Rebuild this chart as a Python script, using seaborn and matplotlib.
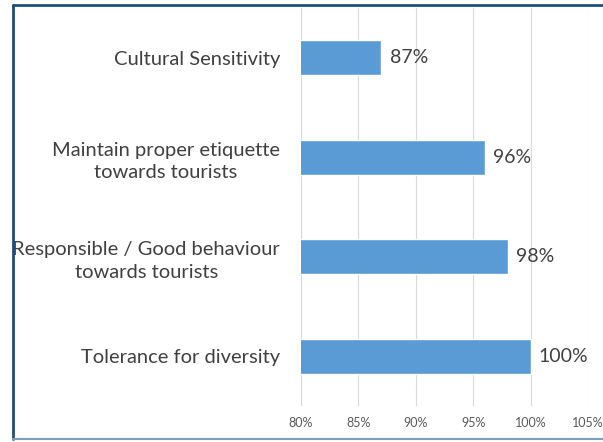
import matplotlib
matplotlib.use("Agg")
import matplotlib.pyplot as plt
from matplotlib.lines import Line2D
from matplotlib.ticker import FuncFormatter, MultipleLocator
import pandas as pd
import seaborn as sns

# === Data ===
categories = [
    "Cultural Sensitivity",
    "Maintain proper etiquette\ntowards tourists",
    "Responsible / Good behaviour\ntowards tourists",
    "Tolerance for diversity",
]
values = [87, 96, 98, 100]
x_ticks = [80, 85, 90, 95, 100, 105]

BAR_COLOR = "#5B9BD5"
TEXT_COLOR = "#404040"

sns.set_theme(style="white")
plt.rcParams["font.family"] = ["Lato", "DejaVu Sans"]

df = pd.DataFrame({"category": categories, "value": values})

fig = plt.figure(figsize=(6.03, 4.42), dpi=100)
ax = fig.add_axes([0.499, 0.0814, 0.476, 0.9006])

sns.barplot(data=df, x="value", y="category", color=BAR_COLOR, width=0.35,
            saturation=1, ax=ax, orient="h")

ax.set_xlim(x_ticks[0], x_ticks[-1])
ax.xaxis.set_major_locator(MultipleLocator(5))
ax.xaxis.set_major_formatter(FuncFormatter(lambda v, _: f"{v:.0f}%"))
ax.grid(axis="x", color="#D9D9D9", linewidth=0.8)
ax.set_axisbelow(True)
for side in ["top", "right", "bottom", "left"]:
    ax.spines[side].set_visible(False)

ax.set_xlabel("")
ax.set_ylabel("")
ax.tick_params(axis="x", length=5, color="#D9D9D9", labelsize=9, labelcolor="#595959", pad=3)
ax.tick_params(axis="y", length=0, labelsize=14.5, labelcolor=TEXT_COLOR, pad=15)
for lbl in ax.get_yticklabels():
    lbl.set_multialignment("center")
    lbl.set_linespacing(1.4)

for container in ax.containers:
    ax.bar_label(container, labels=[f"{v}%" for v in values], padding=6,
                 fontsize=14, color=TEXT_COLOR)

# frame around the chart
fig.add_artist(Line2D([13 / 603, 1], [1 - 5 / 442, 1 - 5 / 442], color="#1F4E79", linewidth=2))
fig.add_artist(Line2D([13 / 603, 13 / 603], [1 - 5 / 442, 1 - 439 / 442], color="#1F4E79", linewidth=2))
fig.add_artist(Line2D([13 / 603, 1], [1 - 439 / 442, 1 - 439 / 442], color="#7F9DB9", linewidth=1.5))

fig.savefig("out.png", dpi=100, facecolor="white")
